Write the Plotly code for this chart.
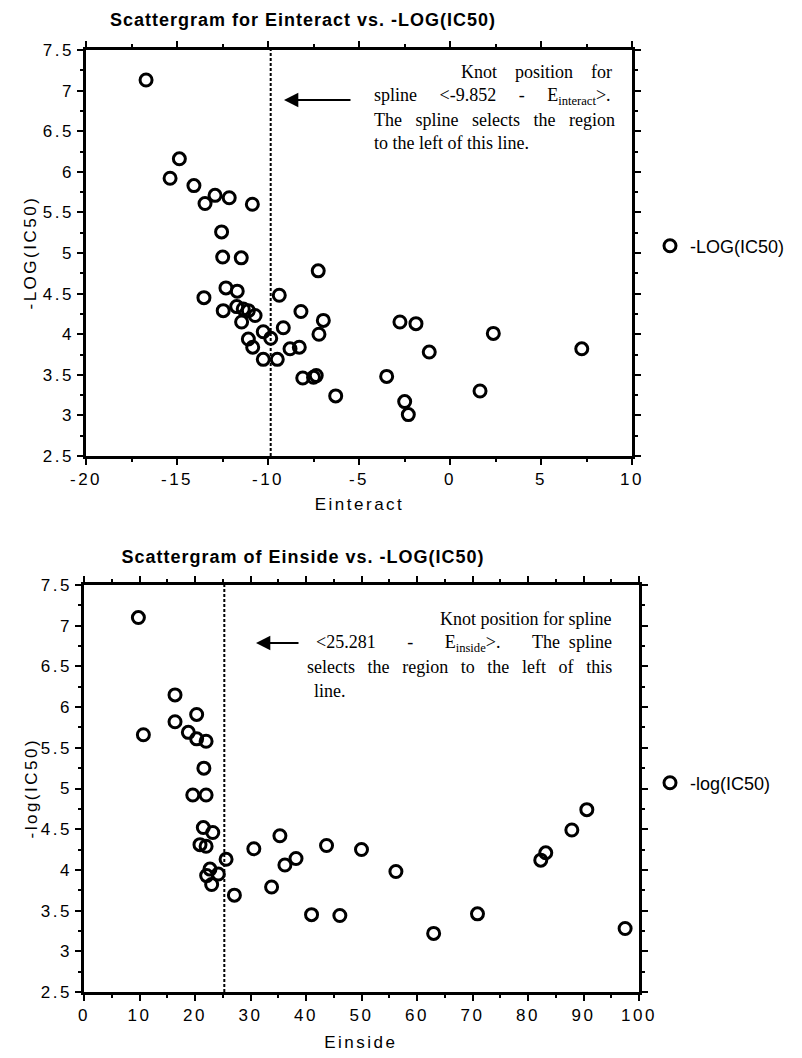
import plotly.graph_objects as go

# ---------------- data ----------------
einteract = [-16.7, -14.87, -15.38, -14.07, -12.91, -13.46, -12.13, -10.86, -12.55, -12.49,
             -11.47, -7.24, -13.52, -12.31, -11.69, -9.38, -12.46, -11.72, -11.36, -11.08,
             -10.71, -11.45, -8.19, -6.96, -7.2, -9.16, -10.26, -9.85, -11.08, -10.84,
             -8.79, -8.28, -10.26, -9.49, -8.09, -7.5, -7.35, -6.28, -3.48, -2.75,
             -1.87, -1.14, -2.49, -2.29, 1.65, 2.38, 7.24]
neglog_top = [7.13, 6.16, 5.92, 5.83, 5.71, 5.61, 5.68, 5.60, 5.26, 4.95,
              4.94, 4.78, 4.45, 4.57, 4.53, 4.48, 4.29, 4.34, 4.31, 4.29,
              4.23, 4.15, 4.28, 4.17, 4.00, 4.08, 4.03, 3.95, 3.94, 3.84,
              3.82, 3.84, 3.69, 3.69, 3.46, 3.47, 3.49, 3.24, 3.48, 4.15,
              4.13, 3.78, 3.17, 3.01, 3.30, 4.01, 3.82]

einside = [9.8, 16.4, 20.3, 16.4, 10.7, 18.8, 20.3, 22.0, 21.6, 22.0,
           19.6, 21.5, 23.2, 22.0, 20.9, 22.7, 22.1, 24.2, 23.0, 25.6,
           27.1, 30.6, 35.3, 36.2, 38.2, 33.8, 41.0, 43.7, 46.1, 50.0,
           56.2, 70.9, 82.3, 83.2, 87.9, 90.6, 63.0, 97.5]
neglog_bot = [7.10, 6.15, 5.91, 5.82, 5.66, 5.69, 5.61, 5.58, 5.25, 4.92,
              4.92, 4.52, 4.46, 4.29, 4.31, 4.01, 3.93, 3.95, 3.82, 4.13,
              3.69, 4.26, 4.42, 4.06, 4.14, 3.79, 3.45, 4.30, 3.44, 4.25,
              3.98, 3.46, 4.12, 4.21, 4.49, 4.74, 3.22, 3.28]

knot_top = -9.852
knot_bot = 25.281

top_xticks = [-20, -15, -10, -5, 0, 5, 10]
bot_xticks = [0, 10, 20, 30, 40, 50, 60, 70, 80, 90, 100]
yticks = [2.5, 3, 3.5, 4, 4.5, 5, 5.5, 6, 6.5, 7, 7.5]

# ---------------- layout helpers ----------------
W, H = 802, 1058
def px(x):
    return x / W
def py(y):
    return 1 - y / H

SANS = "Liberation Sans, Arial, Helvetica"
SERIF = "Liberation Serif, Times New Roman, Times"

marker = dict(symbol="circle-open", size=12, color="black", line=dict(width=3, color="black"))
tickfont = dict(family=SANS, size=17, color="black")

fig = go.Figure()
fig.add_trace(go.Scatter(x=einteract, y=neglog_top, mode="markers", marker=marker,
                         name="-LOG(IC50)", xaxis="x", yaxis="y", legend="legend"))
fig.add_trace(go.Scatter(x=einside, y=neglog_bot, mode="markers", marker=marker,
                         name="-log(IC50)", xaxis="x2", yaxis="y2", legend="legend2"))

def axis_style(minor_dtick, minor_tick0, vals, **kw):
    d = dict(showline=True, linecolor="black", linewidth=2.5, mirror="allticks",
             ticks="outside", ticklen=6, tickwidth=2, tickcolor="black",
             showgrid=False, zeroline=False, tickfont=tickfont, automargin=False,
             tickvals=vals, ticktext=[str(v) for v in vals],
             minor=dict(ticks="outside", ticklen=3, tickwidth=2, tickcolor="black",
                        dtick=minor_dtick, tick0=minor_tick0, showgrid=False))
    d.update(kw)
    return d

fig.update_layout(
    width=W, height=H, margin=dict(l=0, r=0, t=0, b=0, autoexpand=False),
    paper_bgcolor="white", plot_bgcolor="white",
    xaxis=axis_style(2.5, -20, top_xticks, domain=[px(86), px(632)], range=[-20, 10], anchor="y"),
    yaxis=axis_style(0.25, 2.5, yticks, domain=[py(456), py(50)], range=[2.5, 7.5], anchor="x"),
    xaxis2=axis_style(5, 0, bot_xticks, domain=[px(84), px(639)], range=[0, 100], anchor="y2"),
    yaxis2=axis_style(0.25, 2.5, yticks, domain=[py(992), py(585)], range=[2.5, 7.5], anchor="x2"),
    legend=dict(x=px(650), y=py(246), xanchor="left", yanchor="middle",
                font=dict(family=SANS, size=18, color="black"),
                bgcolor="rgba(0,0,0,0)", itemwidth=30),
    legend2=dict(x=px(650), y=py(783), xanchor="left", yanchor="middle",
                 font=dict(family=SANS, size=18, color="black"),
                 bgcolor="rgba(0,0,0,0)", itemwidth=30),
    showlegend=True,
)

# knot lines
fig.add_shape(type="line", xref="x", yref="y domain", x0=knot_top, x1=knot_top, y0=0, y1=1,
              line=dict(color="black", width=2, dash="3px,2px"))
fig.add_shape(type="line", xref="x2", yref="y2 domain", x0=knot_bot, x1=knot_bot, y0=0, y1=1,
              line=dict(color="black", width=2, dash="3px,2px"))

def text(t, x, y, font, anchor="center", angle=0):
    fig.add_annotation(text=t, xref="paper", yref="paper", x=px(x), y=py(y),
                       xanchor=anchor, yanchor="middle", showarrow=False, font=font, textangle=angle)

# 0,1 chart titles
titlefont = dict(family=SANS, size=18, color="black")
text("<b>Scattergram for Einteract vs. -LOG(IC50)</b>", 303, 20, titlefont)
text("<b>Scattergram of Einside vs. -LOG(IC50)</b>", 303, 557, titlefont)
# 2-5 axis titles
afont = dict(family=SANS, size=17, color="black")
text("Einteract", 359, 504, afont)
text("-LOG(IC50)", 31, 253, afont, angle=-90)
text("Einside", 361, 1042, afont)
text("-log(IC50)", 31, 788, afont, angle=-90)

# knot notes (Times-like)
nfont = dict(family=SERIF, size=18, color="black")
sp = "&nbsp;"
text("Knot" + sp * 4 + "position" + sp * 4 + "for", 614, 72, nfont, "right")
text("spline" + sp * 5 + "&lt;-9.852" + sp * 5 + "-" + sp * 5 + "E<sub>interact</sub>&gt;.", 372, 97, nfont, "left")
text("The" + sp * 3 + "spline" + sp * 3 + "selects" + sp * 3 + "the" + sp * 3 + "region", 372, 120, nfont, "left")
text("to the left of this line.", 372, 143, nfont, "left")

text("Knot position for spline", 614, 619, nfont, "right")
text("&lt;25.281" + sp * 7 + "-" + sp * 7 + "E<sub>inside</sub>&gt;." + sp * 7 + "The" + sp * 2 + "spline",
     614, 643, nfont, "right")
g = sp * 2 + "&#8201;"
text("selects" + g + "the" + g + "region" + g + "to" + g + "the" + g + "left" + g + "of" + g + "this",
     614, 667, nfont, "right")
text("line.", 312, 691, nfont, "left")

# arrows
fig.add_annotation(x=px(284), y=py(100), xref="paper", yref="paper", ax=68, ay=0,
                   showarrow=True, arrowhead=2, arrowsize=1.3, arrowwidth=2.2, arrowcolor="black", text="")
fig.add_annotation(x=px(256), y=py(643), xref="paper", yref="paper", ax=44, ay=0,
                   showarrow=True, arrowhead=2, arrowsize=1.3, arrowwidth=2.2, arrowcolor="black", text="")

# page margin off + letter-spacing to mimic the wide-set sans lettering of the original
css = ("body{margin:0}"
       ".xtick text,.ytick text,.x2tick text,.y2tick text{letter-spacing:2.5px}"
       "g.annotation[data-index='0'] text,g.annotation[data-index='1'] text{letter-spacing:1px}"
       "g.annotation[data-index='2'] text,g.annotation[data-index='3'] text,"
       "g.annotation[data-index='4'] text,g.annotation[data-index='5'] text{letter-spacing:2.5px}")
post = ("document.body.style.margin='0';var s=document.createElement('style');s.innerHTML=\""
        + css + "\";document.head.appendChild(s);")

fig.write_html("out.html", post_script=post, config={"displayModeBar": False})
